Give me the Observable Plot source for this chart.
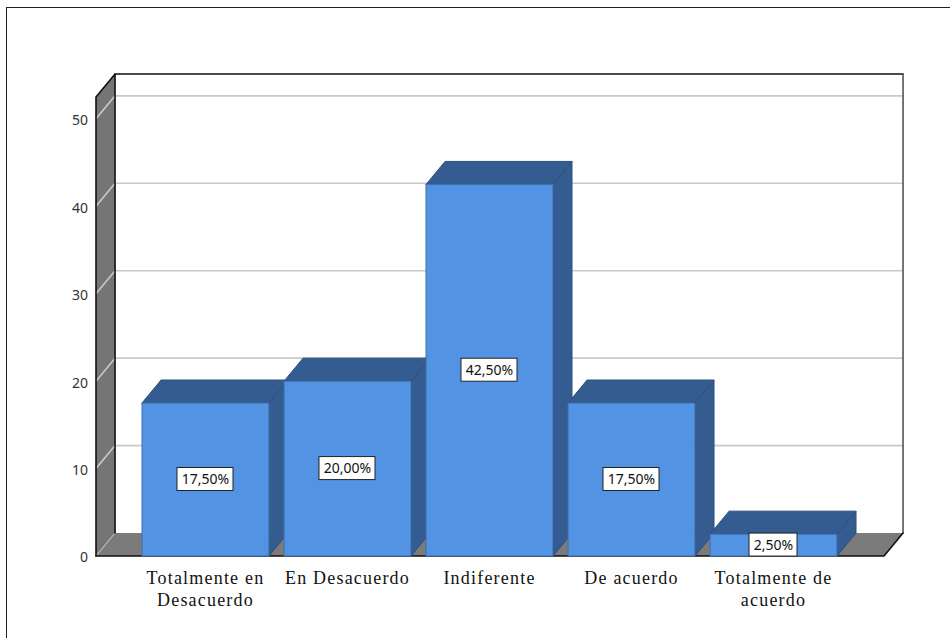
<!DOCTYPE html>
<html>
<head>
<meta charset="utf-8">
<script src="https://cdn.jsdelivr.net/npm/d3@7"></script>
<script src="https://cdn.jsdelivr.net/npm/@observablehq/plot@0.6"></script>
<style>
  html, body { margin: 0; padding: 0; background: #fff; overflow: hidden; }
  #chart { position: absolute; left: 0; top: 0; width: 950px; height: 638px; }
  #chart svg { display: block; }
  #chart g[aria-label="x-axis tick label"] text { letter-spacing: 1.2px; }
  #frame { position: absolute; left: 6px; top: 7px; width: 960px; height: 660px; border: 1px solid #222; box-sizing: border-box; pointer-events: none; }
</style>
</head>
<body>
<div id="chart"></div>
<div id="frame"></div>
<script>
const categories = ["Totalmente en\nDesacuerdo", "En Desacuerdo", "Indiferente", "De acuerdo", "Totalmente de\nacuerdo"];
const values = [17.5, 20, 42.5, 17.5, 2.5];
const valueLabels = ["17,50%", "20,00%", "42,50%", "17,50%", "2,50%"];
const yTicks = [0, 10, 20, 30, 40, 50];

// Scale extents, in data units
const xMin = -0.771, xMax = 4.778, yMax = 52.5;
const depthX = 0.134, depthY = 2.63;   // oblique depth of the 3D projection
const halfBar = 0.447;

const wallC = "#757575", floorC = "#7b7b7b", gridC = "#c9c9c9";
const frontC = "#5294e3", shadeC = "#345c90", edgeC = "#3f6ea8";

const poly = pts => pts.map(([x, y]) => ({x, y}));
const face = (pts, o) => Plot.line(poly(pts), {x: "x", y: "y", ...o});

const gridMarks = yTicks.map(v => face(
  [[xMin, v], [xMin + depthX, v + depthY], ...(v === 0 ? [] : [[xMax + depthX, v + depthY]])],
  {stroke: gridC, strokeWidth: v === 0 ? 1 : 1.6}
));

const barMarks = values.flatMap((v, i) => {
  const l = i - halfBar, r = i + halfBar;
  const side = [[r, 0], [r + depthX, depthY], [r + depthX, v + depthY], [r, v], [r, 0]];
  const top = [[l, v], [l + depthX, v + depthY], [r + depthX, v + depthY], [r, v], [l, v]];
  const front = [[l, 0], [r, 0], [r, v], [l, v], [l, 0]];
  return [
    face(side, {fill: shadeC, stroke: "#2c4f7e", strokeWidth: 1}),
    face(top, {fill: shadeC, stroke: "#2c4f7e", strokeWidth: 1}),
    face(front, {fill: frontC, stroke: edgeC, strokeWidth: 1})
  ];
});

const labelRows = values.map((v, i) => ({i, y: v / 2, label: valueLabels[i]}));

const chart = Plot.plot({
  width: 950,
  height: 638,
  marginLeft: 95.5,
  marginRight: 66.5,
  marginTop: 96.5,
  marginBottom: 82.5,
  style: {background: "#fff", overflow: "visible"},
  x: {domain: [xMin, xMax]},
  y: {domain: [0, yMax]},
  marks: [
    // back wall
    face([[xMin + depthX, depthY], [xMin + depthX, yMax + depthY], [xMax + depthX, yMax + depthY], [xMax + depthX, depthY], [xMin + depthX, depthY]], {fill: "#fff", stroke: "none"}),
    // left wall
    face([[xMin, 0], [xMin + depthX, depthY], [xMin + depthX, yMax + depthY], [xMin, yMax], [xMin, 0]], {fill: wallC, stroke: "none"}),
    // floor
    face([[xMin, 0], [xMin + depthX, depthY], [xMax + depthX, depthY], [xMax, 0], [xMin, 0]], {fill: floorC, stroke: "none"}),
    ...gridMarks,
    // dark edges
    face([[xMin, 0], [xMin, yMax], [xMin + depthX, yMax + depthY], [xMax + depthX, yMax + depthY]], {stroke: "#111", strokeWidth: 1.6}),
    face([[xMin + depthX, depthY], [xMin + depthX, yMax + depthY]], {stroke: "#111", strokeWidth: 1.6}),
    face([[xMax + depthX, yMax + depthY], [xMax + depthX, depthY]], {stroke: "#555", strokeWidth: 1.6}),
    face([[xMin, 0], [xMax, 0], [xMax + depthX, depthY]], {stroke: "#111", strokeWidth: 1.6}),
    ...barMarks,
    Plot.rect(labelRows, {
      x1: d => d.i - (d.label.length > 5 ? 28 : 24) / 142,
      x2: d => d.i + (d.label.length > 5 ? 28 : 24) / 142,
      y1: d => d.y - 11.5 / 8.74,
      y2: d => d.y + 11.5 / 8.74,
      fill: "#fff", stroke: "#222", strokeWidth: 1
    }),
    Plot.text(labelRows, {x: "i", y: "y", text: "label", fontFamily: "Noto Sans", fontSize: 14, fill: "#111"}),
    Plot.axisY(yTicks, {
      anchor: "left", tickSize: 0, tickPadding: 8, label: null, dy: 2,
      fontFamily: "Noto Sans", fontSize: 14, fill: "#333"
    }),
    Plot.axisX(categories.map((_, i) => i), {
      anchor: "bottom", tickSize: 0, tickPadding: 12, label: null,
      tickFormat: i => categories[i], lineHeight: 1.22,
      fontFamily: "Liberation Serif", fontSize: 18, fill: "#111"
    })
  ]
});
document.getElementById("chart").appendChild(chart);
</script>
</body>
</html>
